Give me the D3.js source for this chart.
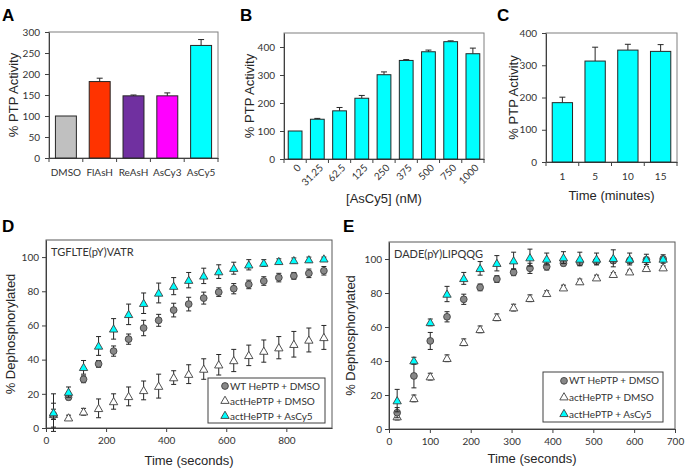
<!DOCTYPE html>
<html><head><meta charset="utf-8">
<script src="https://cdn.jsdelivr.net/npm/d3@7"></script>
<style>
body{margin:0;background:#fff}
text{font-family:Lato,"Liberation Sans",sans-serif;fill:#333;font-weight:400}
text.ttl{font-family:"Liberation Sans",Arial,sans-serif;fill:#262626}
</style>
</head><body><svg id="c" width="685" height="470"></svg>
<script>
// ---------- Panel A ----------
const aCats = ["DMSO","FlAsH","ReAsH","AsCy3","AsCy5"];
const aVals = [100,182,148,148,268];
const aErrs = [0,8,2,7,14];
const aColors = ["#c0c0c0","#ff3300","#7030a0","#ff00ff","#00ffff"];
const aTicks = [0,50,100,150,200,250,300];
// ---------- Panel B ----------
const bCats = ["0","31.25","62.5","125","250","375","500","750","1000"];
const bVals = [100,142,172,217,301,352,383,419,376];
const bErrs = [0,3,12,10,10,3,6,3,20];
const bTicks = [0,100,200,300,400];
// ---------- Panel C ----------
const cCats = ["1","5","10","15"];
const cVals = [184,313,347,343];
const cErrs = [17,43,18,21];
const cTicks = [0,100,200,300,400];
// ---------- Panel D ----------
const dTime = [25,75,125,175,225,275,325,375,425,475,525,575,625,675,725,775,825,875,925];
const dWT = [7.5,18,28.5,37.5,45,52,58.5,63,69,72.5,76,79.5,81.5,84,86,88,89,90.5,92];
const dWTErr = [7,1.5,2,2,3,3,4.5,3.5,4,4,3.5,2.5,3,2.5,2.5,2.5,2,2.5,2.5];
const dAct = [8,6,9.5,11.5,15.5,18.5,22,24.5,29.5,31.5,34.5,37,39.5,42.5,45,47,49,51.5,53];
const dActErr = [3,1.5,2,5.5,4.5,5.5,5.5,7,4,5.5,6,6,6.5,6,6.5,6.5,7.5,7,7];
const dCy5 = [9,21,35.5,48,58,66.5,73,79,83,86.5,89,91.5,93.5,95.5,96.5,97.5,98,98.5,99];
const dCy5Err = [11,3,4,5.5,6,6,6,5.8,5,4.5,4.5,4,3.5,3,2,1.5,1.5,1.5,1];
const dXTicks = [0,200,400,600,800];
// ---------- Panel E ----------
const eTime = [20,61,101,142,183,223,264,305,345,386,427,467,508,549,589,630,671];
const eWT = [9.6,31.2,51.8,66,76.3,83.3,88.2,92.2,94.5,95.5,97.5,98,98.6,99,99,99.5,100];
const eWTErr = [3,7,5,3,3,2,2,2,3,2,1.5,1.5,1.5,1.5,1.5,1.5,1.5];
const eAct = [7.3,18,30.8,41.6,51,58.6,65.7,71.4,76.9,79.8,83.1,86.7,89,91,92.5,94.5,94.9];
const eActErr = [2,2,2,2,2,2,2,2,2,1.5,1.5,1.5,1.5,1,1,1,1];
const eCy5 = [16.7,40.2,62.7,79.4,88.6,94.5,97.5,99,100.8,100,100.8,100,100,100.4,100,99.8,100];
const eCy5Err = [6.6,2,2,4.5,3.5,4,4.5,5,5,3.5,3.5,4,3.5,5,3.5,3,2.5];
const eXTicks = [0,100,200,300,400,500,600,700];
const yTicksDE = [0,20,40,60,80,100];
const legendLabels = ["WT HePTP + DMSO","actHePTP + DMSO","actHePTP + AsCy5"];

const svg = d3.select("#c");
const frameCol = "#7f7f7f", axisCol = "#404040", inkCol = "#262626";
const tickFont = "10px";

function panelLabel(t,x,y){
  svg.append("text").text(t).attr("x",x).attr("y",y)
    .style("font-family","'Liberation Sans',Arial,sans-serif").style("font-weight","bold")
    .style("font-size","17px").style("fill","#000");
}
function styleAxis(g){
  g.select(".domain").attr("stroke",axisCol);
  g.selectAll(".tick line").attr("stroke",axisCol);
  g.selectAll(".tick text").style("font-size",tickFont).style("fill","#333")
    .style("font-family","Lato,'Liberation Sans',sans-serif");
}

function barPanel(o){
  const x = d3.scaleBand().domain(o.cats).range([o.x0,o.x1]).paddingInner(0.38).paddingOuter(0.19);
  const y = d3.scaleLinear().domain(o.yDomain).range([o.y1,o.y0]);
  svg.append("rect").attr("x",o.x0).attr("y",o.y0).attr("width",o.x1-o.x0).attr("height",o.y1-o.y0)
    .attr("fill","none").attr("stroke",frameCol);
  const ya = svg.append("g").attr("transform",`translate(${o.x0},0)`)
    .call(d3.axisLeft(y).tickValues(o.ticks).tickSize(4).tickPadding(5).tickSizeOuter(0));
  styleAxis(ya);
  const xa = svg.append("g").attr("transform",`translate(0,${o.y1})`)
    .call(d3.axisBottom(x).tickSize(0).tickPadding(o.rot?6:11));
  styleAxis(xa);
  const bounds = d3.range(o.cats.length+1).map(i=>o.x0 + (o.x1-o.x0)*i/o.cats.length);
  svg.append("g").selectAll("line").data(bounds).join("line")
    .attr("x1",d=>d).attr("x2",d=>d).attr("y1",o.y1).attr("y2",o.y1+4).attr("stroke",axisCol);
  if(o.rot){
    xa.selectAll(".tick text").attr("text-anchor","end").attr("x",0).attr("y",0).attr("dy","0.35em")
      .attr("transform","translate(4,7) rotate(-45)");
  }
  const eg = svg.append("g");
  o.cats.forEach((c,i)=>{
    if(!o.errs[i]) return;
    const cx = x(c)+x.bandwidth()/2;
    eg.append("line").attr("x1",cx).attr("x2",cx).attr("y1",y(o.vals[i])).attr("y2",y(o.vals[i]+o.errs[i])).attr("stroke",inkCol);
    eg.append("line").attr("x1",cx-3).attr("x2",cx+3).attr("y1",y(o.vals[i]+o.errs[i])).attr("y2",y(o.vals[i]+o.errs[i])).attr("stroke",inkCol);
  });
  svg.append("g").selectAll("rect").data(o.cats).join("rect")
    .attr("x",c=>x(c)).attr("width",x.bandwidth())
    .attr("y",(c,i)=>y(o.vals[i])).attr("height",(c,i)=>y(0)-y(o.vals[i]))
    .attr("fill",(c,i)=>o.colors?o.colors[i]:"#00ffff").attr("stroke",inkCol).attr("stroke-width",1);
  svg.append("text").attr("class","ttl").text(o.ytitle).attr("transform",`translate(${o.ytx},${(o.y0+o.y1)/2}) rotate(-90)`)
    .attr("text-anchor","middle").attr("dy","0.35em").style("font-size","13px");
  if(o.xtitle){
    svg.append("text").attr("class","ttl").text(o.xtitle).attr("x",(o.x0+o.x1)/2).attr("y",o.xty)
      .attr("text-anchor","middle").attr("dy","0.35em").style("font-size","13px");
  }
}

function scatterPanel(o){
  const x = d3.scaleLinear().domain(o.xDomain).range([o.x0,o.x1]);
  const y = d3.scaleLinear().domain([0,110]).range([o.y1,o.y0]);
  svg.append("rect").attr("x",o.x0).attr("y",o.y0).attr("width",o.x1-o.x0).attr("height",o.y1-o.y0)
    .attr("fill","none").attr("stroke","#595959");
  const ya = svg.append("g").attr("transform",`translate(${o.x0},0)`)
    .call(d3.axisLeft(y).tickValues(yTicksDE).tickSize(4).tickPadding(3).tickSizeOuter(0));
  styleAxis(ya);
  const xa = svg.append("g").attr("transform",`translate(0,${o.y1})`)
    .call(d3.axisBottom(x).tickValues(o.xTicks).tickSize(4).tickPadding(5).tickSizeOuter(0));
  styleAxis(xa);
  svg.append("text").text(o.title).attr("x",o.x0+5).attr("y",o.y0+12).attr("dy","0.35em").style("font-size","11px");
  svg.append("text").attr("class","ttl").text("% Dephosphorylated").attr("transform",`translate(${o.ytx},${(o.y0+o.y1)/2}) rotate(-90)`)
    .attr("text-anchor","middle").attr("dy","0.35em").style("font-size","13px");
  svg.append("text").attr("class","ttl").text("Time (seconds)").attr("x",(o.x0+o.x1)/2).attr("y",o.xty)
    .attr("text-anchor","middle").attr("dy","0.35em").style("font-size","13px");

  const series = [
    {v:o.act, e:o.actErr, sym:d3.symbolTriangle, size:30, fill:"#ffffff"},
    {v:o.wt, e:o.wtErr, sym:d3.symbolCircle, size:36, fill:"#888888"},
    {v:o.cy5, e:o.cy5Err, sym:d3.symbolTriangle, size:30, fill:"#00ffff"}
  ];
  series.forEach(s=>{
    const g = svg.append("g");
    o.t.forEach((t,i)=>{
      const cx = x(t), lo = y(s.v[i]-s.e[i]), hi = y(s.v[i]+s.e[i]);
      g.append("line").attr("x1",cx).attr("x2",cx).attr("y1",lo).attr("y2",hi).attr("stroke",inkCol);
      [lo,hi].forEach(yy=>g.append("line").attr("x1",cx-2.5).attr("x2",cx+2.5).attr("y1",yy).attr("y2",yy).attr("stroke",inkCol));
    });
    g.selectAll("path").data(o.t).join("path")
      .attr("d",d3.symbol().type(s.sym).size(s.size))
      .attr("transform",(t,i)=>`translate(${x(t)},${y(s.v[i]) + (s.sym===d3.symbolTriangle?0.8:0)})`)
      .attr("fill",s.fill).attr("stroke","#404040").attr("stroke-width",0.9);
  });
  const L = o.leg;
  svg.append("rect").attr("x",L.x).attr("y",L.y).attr("width",L.w).attr("height",L.h)
    .attr("fill","#fff").attr("stroke","#404040");
  const order = [series[1],series[0],series[2]];
  order.forEach((s,i)=>{
    const yy = L.y + L.h*(i+0.5)/3 + 0.5;
    svg.append("path").attr("d",d3.symbol().type(s.sym).size(s.size))
      .attr("transform",`translate(${L.mx},${yy})`).attr("fill",s.fill).attr("stroke","#404040").attr("stroke-width",0.9);
    svg.append("text").text(legendLabels[i]).attr("x",L.mx+5).attr("y",yy).attr("dy","0.35em").style("font-size","10px");
  });
}

panelLabel("A",2,21);
barPanel({cats:aCats, vals:aVals, errs:aErrs, colors:aColors, ticks:aTicks, yDomain:[0,300],
  x0:49, x1:218, y0:32, y1:158, ytitle:"% PTP Activity", ytx:13});

panelLabel("B",240,21);
barPanel({cats:bCats, vals:bVals, errs:bErrs, ticks:bTicks, yDomain:[0,450], rot:true,
  x0:284, x1:484, y0:33, y1:159, ytitle:"% PTP Activity", ytx:249, xtitle:"[AsCy5] (nM)", xty:198});

panelLabel("C",497,21);
barPanel({cats:cCats, vals:cVals, errs:cErrs, ticks:cTicks, yDomain:[0,400],
  x0:546, x1:677, y0:33, y1:162, ytitle:"% PTP Activity", ytx:513, xtitle:"Time (minutes)", xty:195});

panelLabel("D",2,232);
scatterPanel({t:dTime, wt:dWT, wtErr:dWTErr, act:dAct, actErr:dActErr, cy5:dCy5, cy5Err:dCy5Err,
  xDomain:[0,952], xTicks:dXTicks, x0:46, x1:332, y0:240, y1:428, ytx:10, xty:460,
  title:"TGFLTE(pY)VATR", leg:{x:208,y:378,w:117,h:45,mx:225}});

panelLabel("E",343,232);
scatterPanel({t:eTime, wt:eWT, wtErr:eWTErr, act:eAct, actErr:eActErr, cy5:eCy5, cy5Err:eCy5Err,
  xDomain:[0,700], xTicks:eXTicks, x0:389, x1:675, y0:242, y1:429, ytx:350, xty:458,
  title:"DADE(pY)LIPQQG", leg:{x:543,y:372,w:120,h:50,mx:564}});
</script>
</body></html>
